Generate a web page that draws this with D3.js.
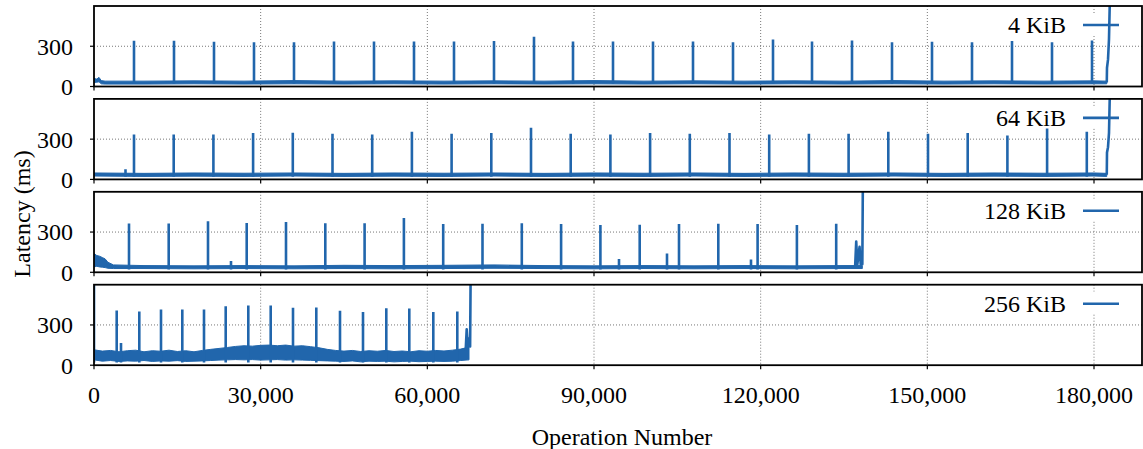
<!DOCTYPE html>
<html><head><meta charset="utf-8">
<script src="https://cdn.jsdelivr.net/npm/d3@7"></script>
<style>body{margin:0;background:#fff} text{fill:#000}</style>
</head><body><svg id="c" width="1143" height="449" font-family="'Liberation Serif', serif"></svg>
<script>
// ---------- data ----------
const seriesNames = ["4 KiB", "64 KiB", "128 KiB", "256 KiB"];
const xTicks = [0, 30000, 60000, 90000, 120000, 150000, 180000];
const yTicks = [0, 300];

// 4 KiB
const base1X = [0, 500, 900, 1300, 2000, 9000, 18000, 27000, 36000, 45000, 54000, 63000, 72000, 81000, 90000, 99000, 108000, 117000, 126000, 135000, 144000, 153000, 162000, 171000, 180000, 182300];
const base1Lo = [30, 32, 35, 20, 18, 18, 20, 18, 20, 18, 20, 18, 20, 18, 20, 18, 20, 18, 20, 18, 20, 18, 20, 18, 20, 20];
const base1Hi = [60, 55, 68, 44, 40, 40, 42, 40, 44, 40, 42, 40, 42, 40, 44, 40, 42, 40, 42, 40, 44, 40, 42, 40, 42, 40];
const spike1X = [7200, 14400, 21600, 28800, 36000, 43200, 50400, 57600, 64800, 72000, 79200, 86220, 93420, 100620, 107820, 115020, 122220, 129240, 136440, 143640, 150840, 158040, 165240, 172440, 179640];
const spike1Y = [341, 341, 334, 329, 329, 335, 335, 335, 335, 340, 370, 335, 335, 335, 335, 330, 350, 335, 342, 329, 334, 329, 340, 329, 342];
const tail1X = [182300, 182340, 182520, 182700, 182880];
const tail1Y = [30, 140, 200, 355, 700];

// 64 KiB
const base2X = [0, 9000, 18000, 27000, 36000, 45000, 54000, 63000, 72000, 81000, 90000, 99000, 108000, 117000, 126000, 135000, 144000, 153000, 162000, 171000, 180000, 182300];
const base2Lo = [25, 22, 24, 22, 25, 22, 24, 22, 25, 22, 24, 22, 25, 22, 24, 22, 25, 22, 24, 22, 25, 22];
const base2Hi = [48, 45, 48, 46, 48, 45, 48, 46, 48, 45, 48, 46, 48, 45, 48, 46, 48, 45, 48, 46, 48, 45];
const spike2X = [5670, 7200, 14346, 21492, 28638, 35784, 42930, 50076, 57222, 64368, 71514, 78660, 85806, 92952, 100098, 107244, 114390, 121536, 128682, 135828, 142974, 150120, 157266, 164412, 171558, 178704];
const spike2Y = [75, 335, 335, 335, 345, 348, 340, 335, 355, 340, 345, 385, 340, 335, 345, 340, 345, 335, 340, 340, 355, 340, 345, 327, 380, 355];
const tail2X = [182300, 182340, 182520, 182700, 182880];
const tail2Y = [35, 200, 240, 347, 700];

// 128 KiB
const base3X = [0, 500, 1000, 1500, 2000, 2500, 3500, 9000, 18000, 27000, 36000, 45000, 54000, 63000, 72000, 81000, 90000, 99000, 108000, 117000, 126000, 135000, 138300];
const base3Lo = [40, 45, 40, 38, 35, 30, 28, 28, 26, 28, 26, 28, 26, 28, 30, 28, 26, 28, 26, 28, 26, 28, 28];
const base3Hi = [140, 125, 120, 110, 100, 75, 55, 50, 48, 50, 48, 52, 50, 52, 55, 50, 48, 50, 48, 50, 48, 50, 50];
const spike3X = [6300, 13446, 20520, 24660, 27486, 34560, 41634, 48708, 55782, 62856, 69930, 77004, 84078, 91152, 94500, 98226, 103140, 105300, 112374, 118260, 119448, 126522, 133596];
const spike3Y = [363, 363, 380, 85, 368, 375, 365, 365, 405, 360, 362, 365, 360, 352, 100, 355, 140, 360, 362, 95, 360, 352, 362];
const tail3X = [137000, 137200, 137400, 137800, 138000, 138300, 138400];
const tail3Y = [40, 230, 60, 190, 60, 60, 700];

// 256 KiB
const base4X = [0, 1500, 3000, 4500, 6000, 7500, 9000, 10500, 12000, 13500, 15000, 16500, 18000, 19500, 21000, 22500, 24000, 25500, 27000, 28500, 30000, 31500, 33000, 34500, 36000, 37500, 39000, 40500, 42000, 43500, 45000, 46500, 48000, 49500, 51000, 52500, 54000, 55500, 57000, 58500, 60000, 61500, 63000, 64500, 66000, 67500];
const base4Lo = [40, 30, 35, 28, 32, 30, 35, 28, 32, 30, 34, 28, 30, 32, 35, 38, 40, 42, 40, 42, 38, 40, 42, 38, 40, 38, 36, 34, 32, 30, 28, 32, 25, 30, 28, 30, 25, 28, 30, 26, 28, 30, 28, 30, 35, 40];
const base4Hi = [115, 105, 110, 100, 108, 112, 100, 108, 104, 112, 102, 108, 100, 110, 118, 125, 132, 140, 145, 142, 148, 150, 145, 150, 142, 145, 138, 130, 118, 110, 105, 110, 102, 108, 104, 110, 102, 106, 100, 108, 104, 110, 106, 112, 120, 135];
const spike4X = [0, 4086, 4860, 8154, 12060, 15894, 19800, 23706, 27774, 31806, 35820, 40014, 44280, 48420, 52614, 56754, 61074, 65394];
const spike4Y = [700, 407, 165, 400, 415, 415, 415, 440, 445, 445, 428, 430, 405, 397, 425, 422, 397, 400];
const tail4X = [66900, 67086, 67300, 67500, 67700, 67800];
const tail4Y = [110, 267, 130, 200, 140, 700];

const panelsData = [
  {name: seriesNames[0], bx: base1X, lo: base1Lo, hi: base1Hi, sx: spike1X, sy: spike1Y, tx: tail1X, ty: tail1Y},
  {name: seriesNames[1], bx: base2X, lo: base2Lo, hi: base2Hi, sx: spike2X, sy: spike2Y, tx: tail2X, ty: tail2Y},
  {name: seriesNames[2], bx: base3X, lo: base3Lo, hi: base3Hi, sx: spike3X, sy: spike3Y, tx: tail3X, ty: tail3Y},
  {name: seriesNames[3], bx: base4X, lo: base4Lo, hi: base4Hi, sx: spike4X, sy: spike4Y, tx: tail4X, ty: tail4Y}
];

// ---------- layout ----------
const color = "#2166ac";
const svg = d3.select("#c");
const left = 94, right = 1142;
const panelTop0 = 6, panelStep = 92.9, panelH = 80.5;
const x = d3.scaleLinear().domain([0, 180000]).range([left, 1094]);
const fs = 24;

panelsData.forEach((p, i) => {
  const top = panelTop0 + i * panelStep, bottom = top + panelH;
  const y = d3.scaleLinear().domain([0, 600]).range([bottom, top]);
  const g = svg.append("g");

  // grid
  g.selectAll(".gx").data(xTicks.filter(t => t > 0)).enter().append("line")
    .attr("x1", d => x(d)).attr("x2", d => x(d)).attr("y1", top).attr("y2", bottom)
    .attr("stroke", "#777").attr("stroke-width", 1).attr("stroke-dasharray", "1,2");
  g.selectAll(".gy").data(yTicks.filter(t => t > 0)).enter().append("line")
    .attr("x1", left).attr("x2", right).attr("y1", d => y(d)).attr("y2", d => y(d))
    .attr("stroke", "#777").attr("stroke-width", 1).attr("stroke-dasharray", "1,2");

  // legend background
  g.append("rect").attr("x", 975).attr("y", top + 7).attr("width", 150).attr("height", 22).attr("fill", "#fff");

  // clip
  const cid = "clip" + i;
  svg.append("clipPath").attr("id", cid).append("rect")
    .attr("x", left).attr("y", top).attr("width", right - left).attr("height", panelH);
  const dg = g.append("g").attr("clip-path", `url(#${cid})`);

  // baseline band
  const band = p.bx.map((v, k) => ({x: v, lo: p.lo[k], hi: p.hi[k]}));
  dg.append("path").datum(band)
    .attr("d", d3.area().x(d => x(d.x)).y0(d => y(d.lo)).y1(d => y(d.hi)))
    .attr("fill", color).attr("stroke", color).attr("stroke-width", 1).attr("stroke-linejoin", "round");

  // spikes
  dg.selectAll(".sp").data(p.sx.map((v, k) => ({x: v, y: p.sy[k]}))).enter().append("line")
    .attr("x1", d => x(d.x)).attr("x2", d => x(d.x)).attr("y1", y(20)).attr("y2", d => y(d.y))
    .attr("stroke", color).attr("stroke-width", 2.6);

  // tail
  dg.append("path").datum(p.tx.map((v, k) => ({x: v, y: p.ty[k]})))
    .attr("d", d3.line().x(d => x(d.x)).y(d => y(d.y)))
    .attr("fill", "none").attr("stroke", color).attr("stroke-width", 2.6).attr("stroke-linejoin", "round");

  // border
  g.append("rect").attr("x", left).attr("y", top).attr("width", right - left).attr("height", panelH)
    .attr("fill", "none").attr("stroke", "#000").attr("stroke-width", 1.8);

  // ticks
  g.selectAll(".tx").data(xTicks).enter().append("line")
    .attr("x1", d => x(d)).attr("x2", d => x(d)).attr("y1", bottom).attr("y2", bottom + 4)
    .attr("stroke", "#000").attr("stroke-width", 1.2);
  g.selectAll(".ty").data(yTicks).enter().append("line")
    .attr("x1", left - 4).attr("x2", left).attr("y1", d => y(d)).attr("y2", d => y(d))
    .attr("stroke", "#000").attr("stroke-width", 1.2);
  g.selectAll(".tyl").data(yTicks).enter().append("text")
    .attr("x", 73).attr("y", d => y(d)).attr("dy", "0.35em").attr("text-anchor", "end")
    .attr("font-size", fs).text(d => d3.format(",")(d));

  // legend
  g.append("text").attr("x", 1066).attr("y", top + 19).attr("dy", "0.35em").attr("text-anchor", "end")
    .attr("font-size", fs).text(p.name);
  g.append("line").attr("x1", 1083).attr("x2", 1119).attr("y1", top + 19).attr("y2", top + 19)
    .attr("stroke", color).attr("stroke-width", 2.6);

  if (i === panelsData.length - 1) {
    g.selectAll(".txl").data(xTicks).enter().append("text")
      .attr("x", d => x(d)).attr("y", bottom + 29).attr("dy", "0.35em").attr("text-anchor", "middle")
      .attr("font-size", fs).text(d => d3.format(",")(d));
  }
});

svg.append("text").attr("x", 622).attr("y", 437).attr("dy", "0.35em").attr("text-anchor", "middle")
  .attr("font-size", fs).text("Operation Number");
svg.append("text").attr("transform", "translate(22,214) rotate(-90)").attr("dy", "0.35em")
  .attr("text-anchor", "middle").attr("font-size", fs).text("Latency (ms)");
</script></body></html>
